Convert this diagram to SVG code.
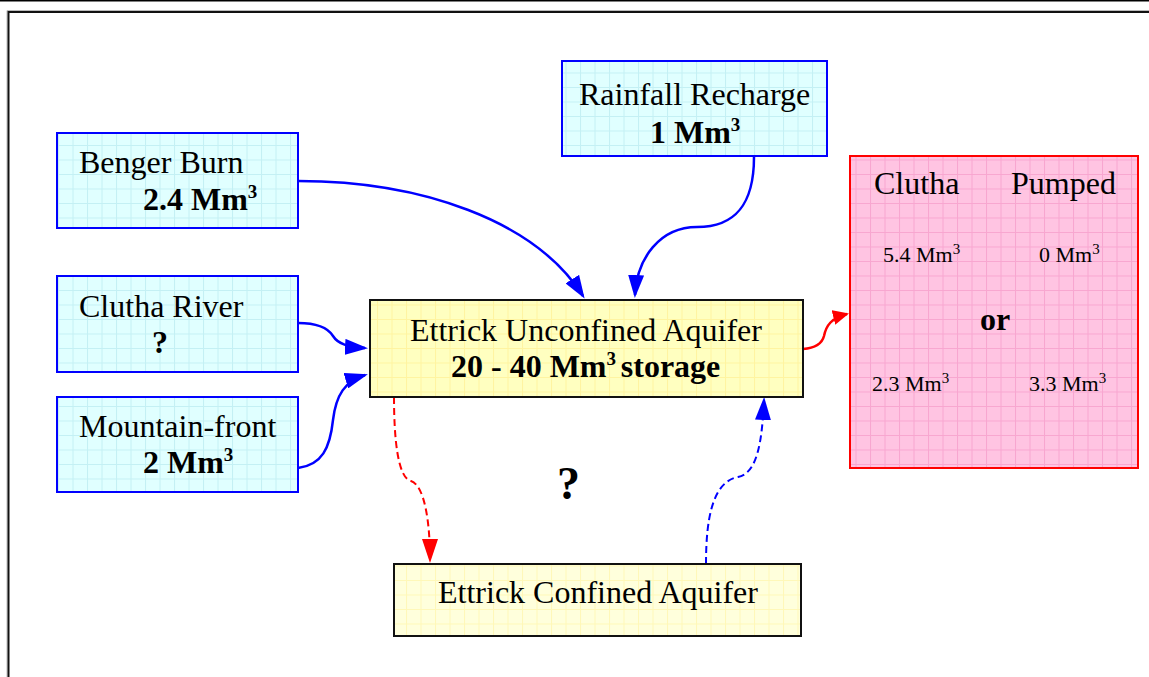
<svg xmlns="http://www.w3.org/2000/svg" width="1149" height="677" viewBox="0 0 1149 677">
<style>
text{font-family:"Liberation Serif","Times New Roman",serif;fill:#000;font-size:32px}
.b{font-weight:bold}
.s{font-size:22px}
.sup{font-size:19px}
.sup2{font-size:15px}
.q{font-size:46px}
.blue{fill:url(#gBlue);stroke:#0000FF;stroke-width:2}
.yel{fill:url(#gYel);stroke:#111;stroke-width:2}
.yel2{fill:url(#gYel2);stroke:#111;stroke-width:2}
.pink{fill:url(#gPink);stroke:#FF0000;stroke-width:2}
.cb{fill:none;stroke:#0000FF;stroke-width:2.5}
.cr{fill:none;stroke:#FF0000;stroke-width:2.5}
.d{stroke-width:2;stroke-dasharray:7,4}
</style>
<defs>
<pattern id="gBlue" patternUnits="userSpaceOnUse" width="14.5" height="14.5">
<rect width="14.5" height="14.5" fill="#E0FFFF"/>
<path d="M0,0.5H14.5M0.5,0V14.5" stroke="#C4F0F4" stroke-width="1"/>
</pattern>
<pattern id="gYel" patternUnits="userSpaceOnUse" width="14.5" height="14.5">
<rect width="14.5" height="14.5" fill="#FFFFC0"/>
<path d="M0,0.5H14.5M0.5,0V14.5" stroke="#FFF4A0" stroke-width="1"/>
</pattern>
<pattern id="gYel2" patternUnits="userSpaceOnUse" width="14.5" height="14.5">
<rect width="14.5" height="14.5" fill="#FFFFDC"/>
<path d="M0,0.5H14.5M0.5,0V14.5" stroke="#FFF8B8" stroke-width="1"/>
</pattern>
<pattern id="gPink" patternUnits="userSpaceOnUse" width="14.5" height="14.5">
<rect width="14.5" height="14.5" fill="#FFC4E2"/>
<path d="M0,0.5H14.5M0.5,0V14.5" stroke="#F8A6D0" stroke-width="1"/>
</pattern>
<marker id="aB" markerUnits="userSpaceOnUse" markerWidth="23" markerHeight="16" viewBox="0 0 23 16" refX="20" refY="8" orient="auto">
<path d="M0,0L23,8L0,16z" fill="#0000FF"/>
</marker>
<marker id="aR" markerUnits="userSpaceOnUse" markerWidth="24" markerHeight="16" viewBox="0 0 24 16" refX="21" refY="8" orient="auto">
<path d="M0,0L24,8L0,16z" fill="#FF0000"/>
</marker>
<marker id="aR2" markerUnits="userSpaceOnUse" markerWidth="16" markerHeight="15" viewBox="0 0 16 15" refX="14" refY="7.5" orient="auto">
<path d="M0,0L16,7.5L0,15z" fill="#FF0000"/>
</marker>
</defs>

<g id="frame">
<line x1="0" y1="0.75" x2="1149" y2="0.75" stroke="#000" stroke-width="1.5"/>
<path d="M7,677V10.5H1149" fill="none" stroke="#BBB" stroke-width="1"/>
<path d="M8.5,677V12H1149" fill="none" stroke="#111" stroke-width="2"/>
</g>

<g id="connectors">
<path class="cb" d="M298,181C420,181 535,220 583,296" marker-end="url(#aB)"/>
<path class="cb" d="M754,157C754,205 735,227 697,227C660,227 637,258 635,295" marker-end="url(#aB)"/>
<path class="cb" d="M298,323C318,323 328,328 333,336C338,344 348,347 365,348" marker-end="url(#aB)"/>
<path class="cb" d="M298,468C322,465 330,448 333,420C336,395 345,381 365,375" marker-end="url(#aB)"/>
<path class="cr" d="M803,349C815,348 822,344 824,336C826,326 831,318 847,314" marker-end="url(#aR2)"/>
<path class="cr d" d="M394,397C394,440 398,478 411,481C424,485 430,520 430,560" marker-end="url(#aR)"/>
<path class="cb d" d="M706,564C706,520 712,482 738,477C758,473 762,440 764,400" marker-end="url(#aB)"/>
</g>

<g id="benger">
<rect class="blue" x="57" y="133" width="241" height="95"/>
<text x="79" y="173">Benger Burn</text>
<text class="b" x="143" y="210">2.4 Mm<tspan class="sup" dy="-12">3</tspan></text>
</g>

<g id="rainfall">
<rect class="blue" x="562" y="61" width="265" height="95"/>
<text x="579" y="105">Rainfall Recharge</text>
<text class="b" x="650" y="143">1 Mm<tspan class="sup" dy="-12">3</tspan></text>
</g>

<g id="clutha-river">
<rect class="blue" x="57" y="276" width="241" height="96"/>
<text x="79" y="317">Clutha River</text>
<text class="b" x="152" y="353">?</text>
</g>

<g id="mountain-front">
<rect class="blue" x="57" y="397" width="241" height="95"/>
<text x="79" y="437">Mountain-front</text>
<text class="b" x="143" y="473">2 Mm<tspan class="sup" dy="-12">3</tspan></text>
</g>

<g id="unconfined">
<rect class="yel" x="370" y="300" width="433" height="97"/>
<text x="410" y="341">Ettrick Unconfined Aquifer</text>
<text class="b" x="451" y="377">20 - 40 Mm<tspan class="sup" dy="-12">3 </tspan><tspan dy="12">storage</tspan></text>
</g>

<g id="confined">
<rect class="yel2" x="394" y="564" width="407" height="72"/>
<text x="438" y="603">Ettrick Confined Aquifer</text>
</g>

<g id="unknown-exchange">
<text class="b q" x="557" y="499">?</text>
</g>

<g id="outflow">
<rect class="pink" x="850" y="156" width="288" height="312"/>
<text x="874" y="194">Clutha</text>
<text x="1011" y="194">Pumped</text>
<text class="s" x="883" y="262">5.4 Mm<tspan class="sup2" dy="-8">3</tspan></text>
<text class="s" x="1039" y="262">0 Mm<tspan class="sup2" dy="-8">3</tspan></text>
<text class="b" x="980" y="330">or</text>
<text class="s" x="872" y="391">2.3 Mm<tspan class="sup2" dy="-8">3</tspan></text>
<text class="s" x="1029" y="391">3.3 Mm<tspan class="sup2" dy="-8">3</tspan></text>
</g>
</svg>
